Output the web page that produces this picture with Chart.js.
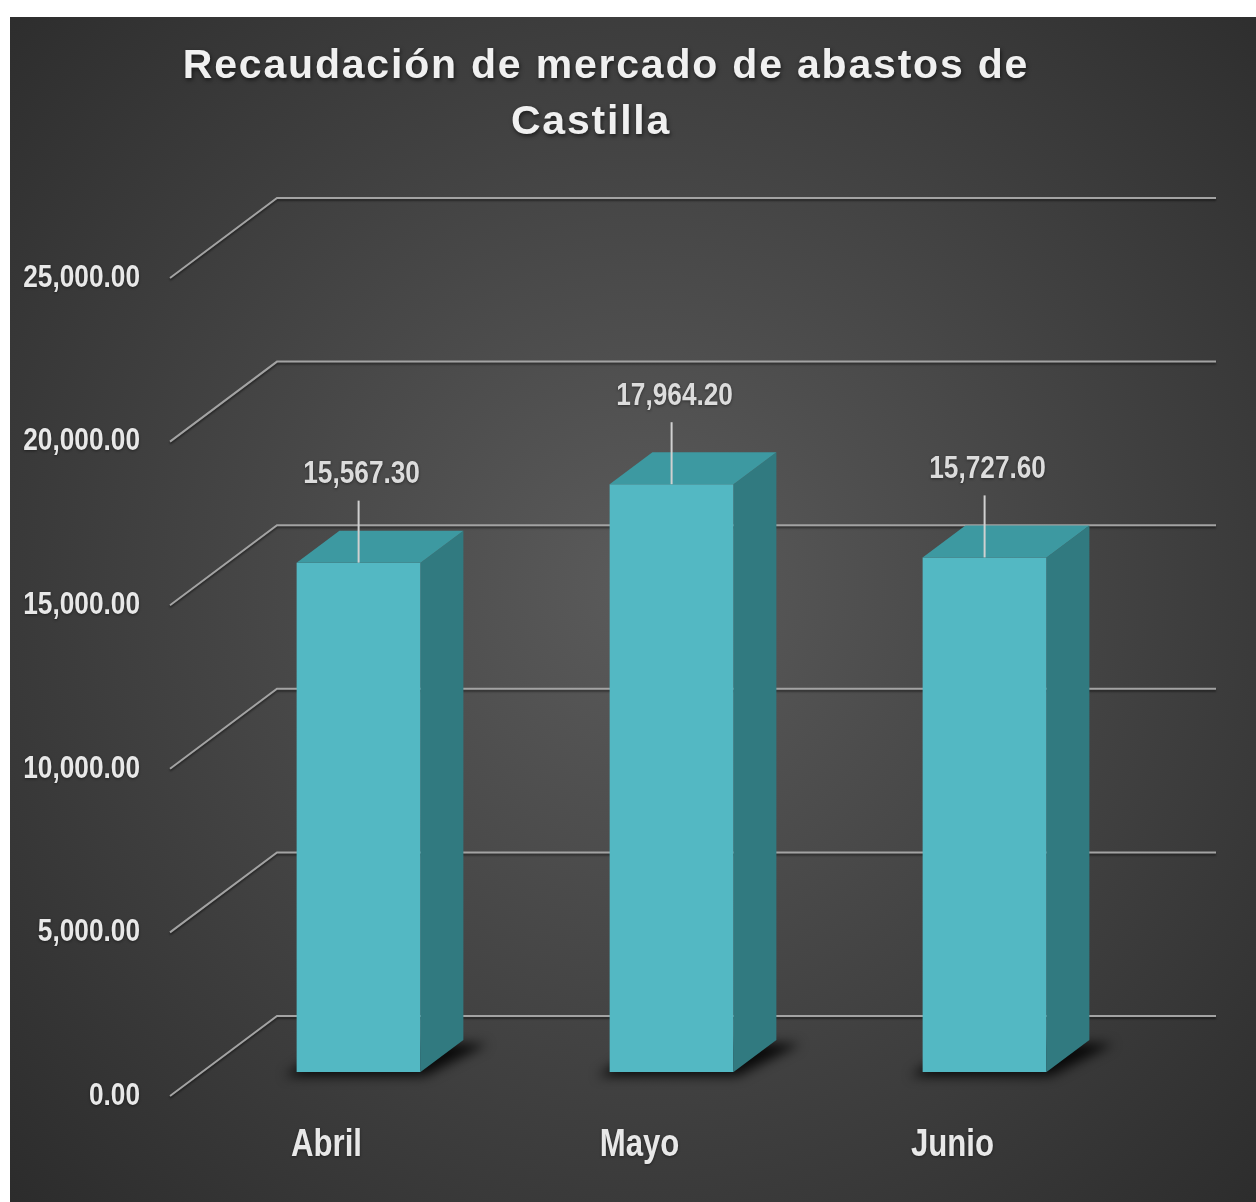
<!DOCTYPE html>
<html>
<head>
<meta charset="utf-8">
<script src="https://cdn.jsdelivr.net/npm/chart.js@4.4.0/dist/chart.umd.min.js"></script>
<style>
  html, body { margin: 0; padding: 0; background: #ffffff; }
  #wrap { position: absolute; left: 10px; top: 17px; width: 1246px; height: 1185px; }
</style>
</head>
<body>
<div id="wrap"><canvas id="myChart" width="1246" height="1185"></canvas></div>
<script>
var titleLines = ['Recaudación de mercado de abastos de', 'Castilla'];
var months = ['Abril', 'Mayo', 'Junio'];
var recaudacion = [15567.30, 17964.20, 15727.60];
var yTicks = [0, 5000, 10000, 15000, 20000, 25000];

// oblique "3D" look: depth of the floor, and where the bars sit in it
var WALL_DX = 107, WALL_DY = 80;
var BAR_FRONT = 0.3, BAR_DEPTH = 0.4;
var SANS = "'Liberation Sans', Arial, sans-serif";
var SQUEEZE = 0.82;  // no narrow face installed, so squeeze Liberation Sans like Arial Narrow

function money(v) {
  return v.toLocaleString('en-US', { minimumFractionDigits: 2, maximumFractionDigits: 2 });
}

function narrowText(ctx, text, x, y, size, align, color) {
  ctx.save();
  ctx.font = 'bold ' + size + 'px ' + SANS;
  ctx.textAlign = align;
  ctx.textBaseline = 'middle';
  ctx.fillStyle = color;
  ctx.shadowColor = 'rgba(0,0,0,0.45)';
  ctx.shadowBlur = 3;
  ctx.shadowOffsetY = 1;
  ctx.translate(x, y);
  ctx.scale(SQUEEZE, 1);
  ctx.fillText(text, 0, 0);
  ctx.restore();
}

var threeD = {
  id: 'threeD',
  beforeDraw: function(chart) {
    var ctx = chart.ctx, w = chart.width, h = chart.height;
    var g = ctx.createRadialGradient(w * 0.51, h * 0.48, 0, w * 0.51, h * 0.48, 900);
    g.addColorStop(0, '#5b5b5b');
    g.addColorStop(1, '#2b2b2b');
    ctx.save();
    ctx.fillStyle = g;
    ctx.fillRect(0, 0, w, h);
    ctx.restore();
  },
  beforeDatasetsDraw: function(chart) {
    var ctx = chart.ctx, area = chart.chartArea, y = chart.scales.y;
    // walls / grid
    ctx.save();
    ctx.strokeStyle = '#a3a3a3';
    ctx.lineWidth = 2;
    ctx.shadowColor = 'rgba(0,0,0,0.45)';
    ctx.shadowBlur = 2;
    ctx.shadowOffsetY = 2;
    y.ticks.forEach(function(t) {
      var py = y.getPixelForValue(t.value);
      ctx.beginPath();
      ctx.moveTo(area.left, py);
      ctx.lineTo(area.left + WALL_DX, py - WALL_DY);
      ctx.lineTo(area.right + WALL_DX, py - WALL_DY);
      ctx.stroke();
    });
    ctx.restore();

    // move the bars back into the floor
    ctx.save();
    ctx.translate(WALL_DX * BAR_FRONT, -WALL_DY * BAR_FRONT);
    var dx = WALL_DX * BAR_DEPTH, dy = WALL_DY * BAR_DEPTH;
    chart.getDatasetMeta(0).data.forEach(function(bar) {
      var l = bar.x - bar.width / 2, r = bar.x + bar.width / 2, b = bar.base;
      ctx.save();
      ctx.filter = 'blur(6px)';
      ctx.fillStyle = 'rgba(0,0,0,0.85)';
      ctx.beginPath();
      ctx.moveTo(l - 12, b + 4);
      ctx.lineTo(r + 4, b + 4);
      ctx.lineTo(r + dx + 24, b - dy + 4);
      ctx.lineTo(l + dx, b - dy);
      ctx.closePath();
      ctx.fill();
      ctx.restore();
    });
  },
  afterDatasetsDraw: function(chart) {
    var ctx = chart.ctx;
    var dx = WALL_DX * BAR_DEPTH, dy = WALL_DY * BAR_DEPTH;
    var meta = chart.getDatasetMeta(0);
    meta.data.forEach(function(bar) {
      var l = bar.x - bar.width / 2, r = bar.x + bar.width / 2, t = bar.y, b = bar.base;
      // side
      ctx.fillStyle = '#317a80';
      ctx.beginPath();
      ctx.moveTo(r, t);
      ctx.lineTo(r + dx, t - dy);
      ctx.lineTo(r + dx, b - dy);
      ctx.lineTo(r, b);
      ctx.closePath();
      ctx.fill();
      // top
      ctx.fillStyle = '#3d99a1';
      ctx.beginPath();
      ctx.moveTo(l, t);
      ctx.lineTo(l + dx, t - dy);
      ctx.lineTo(r + dx, t - dy);
      ctx.lineTo(r, t);
      ctx.closePath();
      ctx.fill();
    });
    // data labels with leader lines
    meta.data.forEach(function(bar, i) {
      var ly = bar.y - 88;
      ctx.strokeStyle = '#d0d0d0';
      ctx.lineWidth = 2;
      ctx.beginPath();
      ctx.moveTo(bar.x, ly + 26);
      ctx.lineTo(bar.x, bar.y);
      ctx.stroke();
      narrowText(ctx, money(recaudacion[i]), bar.x + 3, ly, 32, 'center', '#dcdcdc');
    });
    ctx.restore();
  },
  afterDraw: function(chart) {
    var ctx = chart.ctx, area = chart.chartArea;
    var x = chart.scales.x, y = chart.scales.y;
    // axis labels
    y.ticks.forEach(function(t) {
      narrowText(ctx, money(t.value), area.left - 30, y.getPixelForValue(t.value), 32, 'right', '#e8e8e8');
    });
    months.forEach(function(m, i) {
      narrowText(ctx, m, x.getPixelForTick(i), area.bottom + 50, 38, 'center', '#e8e8e8');
    });
    // title
    ctx.save();
    ctx.font = 'bold 41px ' + SANS;
    ctx.letterSpacing = '1.8px';
    ctx.textAlign = 'center';
    ctx.textBaseline = 'alphabetic';
    ctx.fillStyle = '#f0f0f0';
    ctx.shadowColor = 'rgba(0,0,0,0.6)';
    ctx.shadowBlur = 4;
    ctx.shadowOffsetX = 1;
    ctx.shadowOffsetY = 2;
    ctx.fillText(titleLines[0], 596, 61);
    ctx.fillText(titleLines[1], 581, 117);
    ctx.restore();
  }
};

var chart = new Chart(document.getElementById('myChart'), {
  type: 'bar',
  data: {
    labels: months,
    datasets: [{
      data: recaudacion,
      backgroundColor: '#53b8c3',
      borderWidth: 0,
      barPercentage: 1,
      categoryPercentage: 0.396
    }]
  },
  options: {
    responsive: false,
    animation: false,
    events: [],
    layout: {
      padding: { left: 10, right: 147, top: 261, bottom: 0 }
    },
    scales: {
      x: {
        grid: { display: false, drawTicks: false },
        border: { display: false },
        ticks: { display: false },
        afterFit: function(scale) { scale.height = 106; }
      },
      y: {
        min: yTicks[0],
        max: yTicks[yTicks.length - 1],
        grid: { display: false, drawTicks: false },
        border: { display: false },
        afterBuildTicks: function(scale) {
          scale.ticks = yTicks.map(function(v) { return { value: v }; });
        },
        ticks: { display: false },
        afterFit: function(scale) { scale.width = 150; }
      }
    },
    plugins: {
      legend: { display: false },
      title: { display: false },
      tooltip: { enabled: false }
    }
  },
  plugins: [threeD]
});
</script>
</body>
</html>
